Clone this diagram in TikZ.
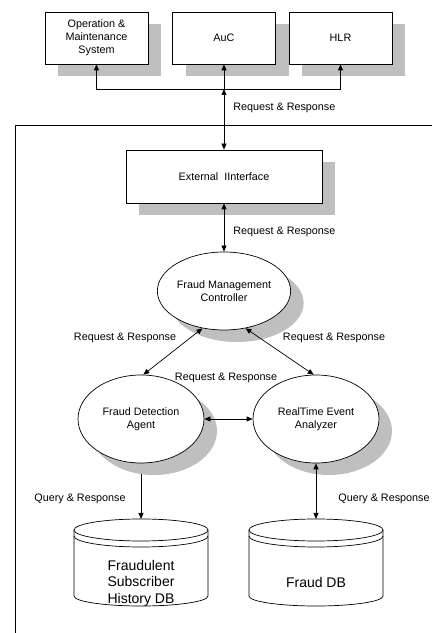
\documentclass[tikz,border=0pt]{standalone}
\usepackage{fontspec}
\setmainfont{Liberation Sans}
\usetikzlibrary{arrows.meta,shadows,shapes.geometric}

\newcommand\diafont{\fontsize{10.8}{13}\selectfont}
\newcommand\dbfont{\fontsize{14}{16.5}\selectfont}

% drum outline for a data base, #1 = x of centre, #2 = name
\newcommand\dbdrum[2]{%
  \begin{scope}[shift={(#1,50)}]
    \draw[fill=white] (-67,53) -- (-67,-13) arc (180:360:67 and 10)
        -- (67,53) arc (0:180:67 and 11) -- cycle;
    \draw (-67,53) arc (180:360:67 and 11);
    \draw (-67,47) arc (180:360:67 and 11);
    \coordinate (#2-top) at (0,64);
  \end{scope}}

\tikzset{
  shade/.style={drop shadow={shadow xshift=13pt,shadow yshift=-12pt,fill=black!25,opacity=1}},
  unit/.style={draw,fill=white,shade,align=center,font=\diafont,
    minimum width=103pt,minimum height=52pt},
  proc/.style={ellipse,draw,fill=white,shade,align=center,font=\diafont,
    inner sep=0pt,minimum width=126pt,minimum height=88pt},
  msg/.style={font=\diafont,inner sep=0pt},
  link/.style={-{Triangle[length=6pt,width=5pt]}},
  both/.style={{Triangle[length=6pt,width=5pt]}-{Triangle[length=6pt,width=5pt]}},
}

\begin{document}
\begin{tikzpicture}[x=1pt,y=1pt,line width=0.7pt]
    \useasboundingbox (0,0) rectangle (432,633);
    %\draw[help lines,step=50] (0,0) grid (432,633);

    % outside systems
    \node[unit] (oam) at (96.5,595) {Operation \&\\Maintenance\\System};
    \node[unit] (auc) at (224,595) {AuC};
    \node[unit] (hlr) at (340.5,595) {HLR};
    \coordinate (bus) at (224,544);

    % frame of the fraud system
    \draw (432,508) -- (15,508) -- (15,0);

    \node[unit,minimum width=196pt,minimum height=53pt,
          shade={shadow xshift=12pt}] (ext) at (224,456.5) {External\ \ IInterface};
    \node[proc,minimum width=132pt,minimum height=78pt] (fmc) at (224,342)
        {Fraud Management\\Controller};
    \node[proc] (fda) at (141,214) {Fraud Detection\\Agent};
    \node[proc] (rtea) at (316,214) {RealTime Event\\Analyzer};

    % data bases
    \dbdrum{141}{db1}
    \node[font=\dbfont,align=center] (db1) at (141,50) {Fraudulent\\Subscriber\\History DB};
    \dbdrum{316}{db2}
    \node[font=\dbfont] (db2) at (316,51) {Fraud DB};

    \draw[link] (bus) -- (auc.south);
    \draw[link] (bus) -| (oam.south);
    \draw[link] (bus) -| (hlr.south);
    \draw[both] (bus) -- (ext.north);
    \draw[both] (ext.south) -- (fmc.north);
    \draw[both] (fmc.240) -- (fda.87);
    \draw[both] (fmc.300) -- (rtea.93);
    \draw[both] (fda.east) -- (rtea.west);
    \draw[link,shorten <=11pt] (fda.south) -- (db1-top);
    \draw[both] (rtea.south) -- (db2-top);

    \node[msg,anchor=west] (m1) at (233,525) {Request \& Response};
    \node[msg,anchor=west] (m2) at (233,401) {Request \& Response};
    \node[msg] (m3) at (125,295) {Request \& Response};
    \node[msg] (m4) at (334,295) {Request \& Response};
    \node[msg] (m5) at (226,255) {Request \& Response};
    \node[msg] (q1) at (80,134) {Query \& Response};
    \node[msg] (q2) at (384,134) {Query \& Response};
\end{tikzpicture}
\end{document}
